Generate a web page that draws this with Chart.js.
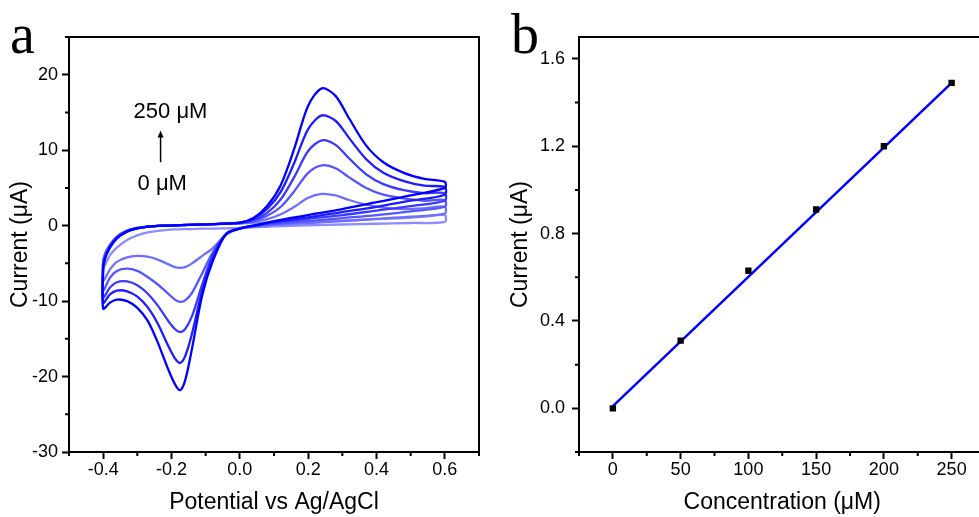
<!DOCTYPE html>
<html><head><meta charset="utf-8">
<script src="https://cdn.jsdelivr.net/npm/chart.js@4.4.1/dist/chart.umd.min.js"></script>
<style>
html,body{margin:0;padding:0;background:#fff;overflow:hidden;width:979px;height:517px;}
#wa{position:absolute;left:0;top:0;width:490px;height:517px;}
#wb{position:absolute;left:490px;top:0;width:500px;height:517px;}
canvas{display:block;}
</style></head><body>
<div id="wa"><canvas id="ca" width="490" height="517"></canvas></div>
<div id="wb"><canvas id="cb" width="500" height="517"></canvas></div>
<script>
// ---------- Panel a data: cyclic voltammograms ----------
const concentrations = [0, 50, 100, 150, 200, 250];
const potentialFwd = [-0.4, -0.39, -0.37, -0.35, -0.32, -0.28, -0.22, -0.15, -0.08, 0, 0.04, 0.08, 0.12, 0.16, 0.2, 0.24, 0.28, 0.32, 0.37, 0.42, 0.48, 0.54, 0.6];
const potentialRev = [0.6, 0.5, 0.4, 0.3, 0.2, 0.1, 0.05, 0, -0.04, -0.08, -0.11, -0.14, -0.16, -0.175, -0.19, -0.21, -0.24, -0.27, -0.3, -0.33, -0.36, -0.38, -0.4];

const fwd0   = [-4.4, -3.2, -1.9, -1.1, -0.5, -0.2, 0.0, 0.1, 0.2, 0.3, 0.35, 0.4, 0.45, 0.5, 0.55, 0.6, 0.65, 0.7, 0.8, 0.9, 1.0, 1.2, 1.4];
const fwd50  = [-4.6, -3.3, -2.0, -1.1, -0.5, -0.2, 0.0, 0.1, 0.2, 0.3, 0.5, 0.85, 1.5, 2.5, 3.7, 4.2, 4.0, 3.4, 2.8, 2.4, 2.2, 2.3, 2.5];
const fwd100 = [-4.8, -3.4, -2.0, -1.2, -0.5, -0.2, 0.0, 0.1, 0.2, 0.35, 0.6, 1.3, 2.5, 4.6, 7.0, 8.0, 7.6, 6.4, 5.0, 4.1, 3.6, 3.3, 3.4];
const fwd150 = [-5.0, -3.6, -2.1, -1.2, -0.6, -0.2, 0.0, 0.1, 0.2, 0.35, 0.75, 1.7, 3.5, 6.5, 9.9, 11.3, 10.7, 8.9, 6.8, 5.5, 4.7, 4.3, 4.3];
const fwd200 = [-5.2, -3.7, -2.1, -1.3, -0.6, -0.2, 0.0, 0.1, 0.2, 0.4, 0.9, 2.2, 4.5, 8.4, 12.8, 14.6, 13.9, 11.6, 8.8, 7.0, 5.9, 5.3, 5.1];
const fwd250 = [-5.4, -3.8, -2.2, -1.3, -0.6, -0.2, 0.0, 0.1, 0.2, 0.4, 1.0, 2.6, 5.4, 10.3, 15.9, 18.2, 17.2, 14.2, 10.6, 8.4, 7.0, 6.2, 5.8];

const rev0   = [0.5, 0.35, 0.25, 0.15, 0.05, -0.1, -0.2, -0.3, -0.35, -0.4, -0.4, -0.45, -0.45, -0.5, -0.5, -0.55, -0.7, -0.9, -1.3, -1.9, -2.9, -3.9, -5.7];
const rev50  = [1.6, 1.2, 0.9, 0.6, 0.35, 0.1, -0.1, -0.35, -1.2, -3.0, -4.0, -5.0, -5.5, -5.6, -5.5, -5.1, -4.5, -4.1, -4.0, -4.2, -4.8, -5.8, -7.3];
const rev100 = [2.5, 1.9, 1.4, 1.0, 0.6, 0.25, 0.0, -0.35, -1.1, -3.6, -6.3, -8.9, -9.9, -10.1, -9.8, -9.0, -7.8, -6.8, -6.0, -5.7, -6.0, -6.9, -8.6];
const rev150 = [3.3, 2.6, 2.0, 1.4, 0.9, 0.4, 0.05, -0.4, -1.1, -4.0, -7.8, -12.0, -13.7, -14.1, -13.7, -12.6, -10.6, -9.0, -7.9, -7.4, -7.5, -8.2, -9.5];
const rev200 = [4.1, 3.3, 2.5, 1.8, 1.1, 0.5, 0.05, -0.4, -1.1, -4.4, -8.6, -14.3, -17.3, -18.2, -17.6, -15.9, -13.0, -10.8, -9.4, -8.7, -8.6, -9.1, -10.2];
const rev250 = [5.0, 4.0, 3.1, 2.2, 1.4, 0.6, 0.1, -0.4, -1.1, -4.8, -9.2, -16.3, -20.5, -21.8, -21.0, -19.0, -15.5, -12.6, -10.9, -10.0, -9.8, -10.2, -11.0];

const aXTicks = [-0.4, -0.2, 0, 0.2, 0.4, 0.6];
const aXMinor = [-0.5, -0.3, -0.1, 0.1, 0.3, 0.5, 0.7];
const aYTicks = [-30, -20, -10, 0, 10, 20];
const aYMinor = [-25, -15, -5, 5, 15, 25];

// ---------- Panel b data: calibration ----------
const concB = [0, 50, 100, 150, 200, 250];
const currentB = [0.0, 0.31, 0.63, 0.91, 1.20, 1.49];
const fitConc = [0, 250];
const fitCurrent = [0.01, 1.49];

const bXTicks = [0, 50, 100, 150, 200, 250];
const bXMinor = [-25, 25, 75, 125, 175, 225, 275];
const bYTicks = [0, 0.4, 0.8, 1.2, 1.6];
const bYMinor = [-0.2, 0.2, 0.6, 1.0, 1.4];

// ---------- common ----------
const FONT = '"Liberation Sans", Arial, Helvetica, sans-serif';
Chart.defaults.font.family = FONT;
Chart.defaults.color = '#000';
Chart.defaults.animation = false;

const fwdSets = [fwd0, fwd50, fwd100, fwd150, fwd200, fwd250];
const revSets = [rev0, rev50, rev100, rev150, rev200, rev250];
const curveColors = ['#8c8cff', '#6e6eff', '#5555ff', '#3a3aff', '#1c1cff', '#0000ff'];

function framePlugin(minorX, minorY, letter, letterX, extra) {
  return {
    id: 'frame' + letter,
    afterDraw(chart) {
      const ctx = chart.ctx, a = chart.chartArea, x = chart.scales.x, y = chart.scales.y;
      ctx.save();
      ctx.strokeStyle = '#000';
      ctx.lineWidth = 2;
      ctx.strokeRect(a.left, a.top, a.right - a.left, a.bottom - a.top);
      ctx.beginPath();
      minorX.forEach(v => { const p = x.getPixelForValue(v); ctx.moveTo(p, a.bottom); ctx.lineTo(p, a.bottom + 4); });
      minorY.forEach(v => { const p = y.getPixelForValue(v); ctx.moveTo(a.left, p); ctx.lineTo(a.left - 4, p); });
      ctx.stroke();
      ctx.fillStyle = '#000';
      ctx.font = '56px "Liberation Serif", "Times New Roman", serif';
      ctx.textBaseline = 'alphabetic';
      ctx.textAlign = 'left';
      ctx.fillText(letter, letterX, 53);
      if (extra) extra(chart, ctx, x, y);
      ctx.restore();
    }
  };
}

function annotateA(chart, ctx, x, y) {
  ctx.font = '22px ' + FONT;
  ctx.textAlign = 'center';
  ctx.textBaseline = 'middle';
  ctx.fillText('250 \u03BCM', x.getPixelForValue(-0.203), y.getPixelForValue(15.1));
  ctx.fillText('0 \u03BCM', x.getPixelForValue(-0.227), y.getPixelForValue(5.5));
  const ax = x.getPixelForValue(-0.232);
  const y0 = y.getPixelForValue(8.4), y1 = y.getPixelForValue(12.6);
  ctx.lineWidth = 1.5;
  ctx.beginPath(); ctx.moveTo(ax, y0); ctx.lineTo(ax, y1 + 5); ctx.stroke();
  ctx.beginPath(); ctx.moveTo(ax, y1); ctx.lineTo(ax - 3, y1 + 7); ctx.lineTo(ax + 3, y1 + 7); ctx.closePath(); ctx.fill();
}

function axisCommon(min, max, ticksArr, fmt, pad, titleText, titlePad, fitFn) {
  return {
    type: 'linear', min: min, max: max,
    afterBuildTicks: s => { s.ticks = ticksArr.map(v => ({ value: v })); },
    ticks: { font: { size: 18 }, padding: pad, callback: fmt, autoSkip: false, maxRotation: 0, color: '#000' },
    grid: { drawOnChartArea: false, drawTicks: true, tickLength: 7, tickWidth: 2, tickColor: '#000' },
    border: { display: false },
    title: { display: true, text: titleText, font: { size: 23 }, color: '#000', padding: titlePad },
    afterFit: fitFn
  };
}

// ---------- Panel a ----------
const datasetsA = [];
for (let k = concentrations.length - 1; k >= 0; k--) {
  const f = fwdSets[k], r = revSets[k];
  const pts = potentialFwd.map((e, i) => ({ x: e, y: f[i] }))
    .concat(potentialRev.map((e, i) => ({ x: e, y: r[i] })))
    .concat([{ x: potentialFwd[0], y: f[0] }]);
  datasetsA.push({
    label: concentrations[k] + ' \u03BCM',
    data: pts,
    borderColor: curveColors[k],
    borderWidth: 2.3,
    pointRadius: 0,
    fill: false,
    tension: 0.3
  });
}

new Chart(document.getElementById('ca'), {
  type: 'line',
  data: { datasets: datasetsA },
  options: {
    responsive: false,
    animation: false,
    layout: { padding: { top: 37, right: 11, left: 0, bottom: 0 } },
    plugins: { legend: { display: false }, tooltip: { enabled: false } },
    scales: {
      x: axisCommon(-0.5, 0.7, aXTicks, v => Number(v).toFixed(1), 0, 'Potential vs Ag/AgCl', { top: 0, bottom: 1 }, s => { s.height = 65; }),
      y: axisCommon(-30, 25, aYTicks, v => String(v), 4, 'Current (\u03BCA)', { top: 7, bottom: 0 }, s => { s.width = 69; })
    }
  },
  plugins: [framePlugin(aXMinor, aYMinor, 'a', 10, annotateA)]
});

// ---------- Panel b ----------
new Chart(document.getElementById('cb'), {
  type: 'scatter',
  data: {
    datasets: [
      {
        label: 'data',
        data: concB.map((c, i) => ({ x: c, y: currentB[i] })),
        pointStyle: 'rect',
        pointRadius: 4.5,
        backgroundColor: '#000',
        borderColor: '#000',
        borderWidth: 0,
        showLine: false
      },
      {
        label: 'fit',
        data: fitConc.map((c, i) => ({ x: c, y: fitCurrent[i] })),
        showLine: true,
        borderColor: '#0000ff',
        borderWidth: 2.5,
        pointRadius: 0,
        fill: false
      }
    ]
  },
  options: {
    responsive: false,
    animation: false,
    layout: { padding: { top: 37, right: 3, left: 0, bottom: 0 } },
    plugins: { legend: { display: false }, tooltip: { enabled: false } },
    scales: {
      x: axisCommon(-25, 275, bXTicks, v => String(v), 0, 'Concentration (\u03BCM)', { top: 0, bottom: 1 }, s => { s.height = 65; }),
      y: axisCommon(-0.2, 1.7, bYTicks, v => Number(v).toFixed(1), 7, 'Current (\u03BCA)', { top: 17, bottom: 0 }, s => { s.width = 89; })
    }
  },
  plugins: [framePlugin(bXMinor, bYMinor, 'b', 21, null)]
});
</script>
</body></html>
